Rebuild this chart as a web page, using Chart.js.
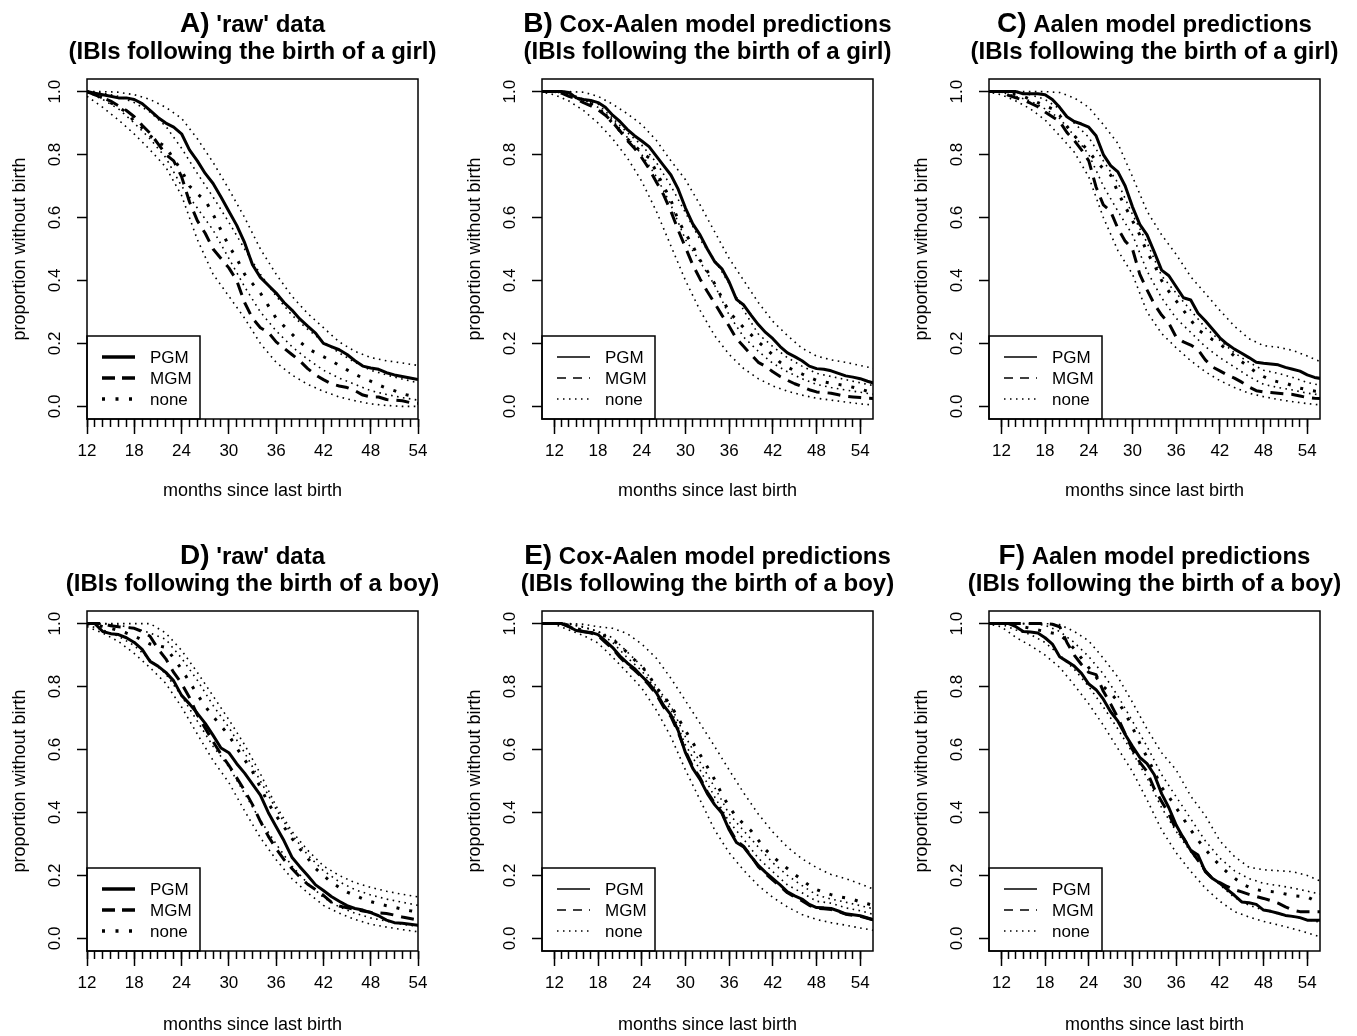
<!DOCTYPE html>
<html>
<head>
<meta charset="utf-8">
<script src="https://cdn.jsdelivr.net/npm/chart.js@4.4.0/dist/chart.umd.min.js"></script>
<style>
  body { margin: 0; background: #fff; width: 1357px; height: 1036px; overflow: hidden; position: relative; }
  canvas { position: absolute; }
</style>
</head>
<body>
<canvas id="pA" width="452" height="502" style="left:0px;top:0px"></canvas>
<canvas id="pB" width="452" height="502" style="left:455px;top:0px"></canvas>
<canvas id="pC" width="452" height="502" style="left:902px;top:0px"></canvas>
<canvas id="pD" width="452" height="502" style="left:0px;top:532px"></canvas>
<canvas id="pE" width="452" height="502" style="left:455px;top:532px"></canvas>
<canvas id="pF" width="452" height="502" style="left:902px;top:532px"></canvas>
<script>
// months on the x axis
const monthsRaw = [12,13,14,15,16,17,18,19,20,21,22,23,24,25,26,27,28,29,30,31,32,33,34,35,36,37,38,39,40,41,42,43,44,45,46,47,48,49,50,51,52,53,54];
const monthsModel = [10,11,12,13,14,15,16,17,18,19,20,21,22,23,24,25,26,27,28,29,30,31,32,33,34,35,36,37,38,39,40,41,42,43,44,45,46,47,48,49,50,51,52,53,54,55,56];
const ciMonthsRaw = [12,14,16,18,20,22,24,26,28,30,32,34,36,38,40,42,44,46,48,50,52,54];
const ciMonthsModel = [10,12,14,16,18,20,22,24,26,28,30,32,34,36,38,40,42,44,46,48,50,52,54,56];
const xTickLabels = [12,18,24,30,36,42,48,54];
const xMinorTicks = monthsRaw;
const yTickLabels = [0, 0.2, 0.4, 0.6, 0.8, 1.0];
const legendLabels = ['PGM', 'MGM', 'none'];

// A) raw data, girls
const aPGM = [1.0,0.995,0.99,0.985,0.98,0.98,0.975,0.962,0.94,0.918,0.9,0.887,0.866,0.815,0.78,0.74,0.708,0.665,0.62,0.575,0.52,0.45,0.41,0.385,0.36,0.33,0.306,0.278,0.255,0.233,0.2,0.19,0.18,0.165,0.145,0.128,0.122,0.118,0.107,0.1,0.095,0.09,0.085];
const aMGM = [1.0,0.99,0.98,0.97,0.955,0.94,0.92,0.893,0.868,0.835,0.8,0.78,0.73,0.65,0.59,0.55,0.5,0.47,0.44,0.4,0.33,0.28,0.25,0.235,0.205,0.185,0.165,0.145,0.12,0.1,0.085,0.072,0.065,0.06,0.05,0.036,0.03,0.03,0.022,0.02,0.018,0.012,0.01];
const aNone = [1.0,0.99,0.98,0.965,0.95,0.935,0.905,0.885,0.86,0.84,0.825,0.785,0.75,0.7,0.675,0.655,0.61,0.56,0.51,0.47,0.42,0.39,0.36,0.32,0.28,0.255,0.23,0.205,0.185,0.17,0.158,0.145,0.13,0.116,0.102,0.09,0.08,0.068,0.058,0.05,0.04,0.034,0.03];
const aCiTop = [1.0,1.0,0.998,0.99,0.975,0.95,0.915,0.85,0.775,0.69,0.6,0.5,0.42,0.35,0.295,0.25,0.205,0.175,0.155,0.145,0.138,0.13];
const aCiUpper = [1.0,0.995,0.985,0.965,0.935,0.89,0.82,0.74,0.665,0.585,0.5,0.42,0.35,0.29,0.245,0.205,0.17,0.14,0.115,0.1,0.087,0.075];
const aCiLower = [1.0,0.975,0.945,0.9,0.85,0.79,0.7,0.63,0.56,0.47,0.38,0.3,0.24,0.19,0.15,0.115,0.09,0.07,0.05,0.038,0.028,0.02];
const aCiBottom = [0.985,0.95,0.91,0.865,0.815,0.76,0.67,0.53,0.42,0.35,0.28,0.2,0.14,0.1,0.07,0.048,0.03,0.018,0.008,0.003,0.0,0.0];

// B) Cox-Aalen, girls
const bPGM = [1.0,1.0,1.0,1.0,0.997,0.98,0.975,0.972,0.965,0.95,0.925,0.905,0.88,0.86,0.843,0.825,0.795,0.765,0.735,0.69,0.63,0.58,0.545,0.5,0.46,0.437,0.395,0.34,0.322,0.29,0.26,0.235,0.215,0.19,0.17,0.158,0.145,0.128,0.12,0.118,0.113,0.105,0.097,0.093,0.088,0.08,0.073];
const bMGM = [1.0,1.0,1.0,0.995,0.985,0.977,0.965,0.955,0.942,0.925,0.903,0.875,0.845,0.82,0.79,0.755,0.713,0.672,0.62,0.56,0.505,0.45,0.405,0.365,0.328,0.29,0.255,0.215,0.19,0.165,0.14,0.127,0.11,0.095,0.083,0.072,0.063,0.053,0.046,0.044,0.042,0.037,0.032,0.03,0.028,0.026,0.025];
const bNone = [1.0,1.0,1.0,0.998,0.99,0.98,0.97,0.962,0.947,0.925,0.9,0.875,0.85,0.83,0.805,0.79,0.745,0.7,0.655,0.59,0.55,0.51,0.465,0.43,0.39,0.345,0.3,0.275,0.25,0.228,0.205,0.185,0.163,0.14,0.125,0.113,0.103,0.092,0.083,0.078,0.074,0.07,0.066,0.061,0.055,0.048,0.042];
const bCiTop = [1.0,1.0,1.0,0.998,0.985,0.96,0.93,0.895,0.845,0.78,0.72,0.64,0.555,0.47,0.4,0.33,0.27,0.225,0.185,0.16,0.148,0.14,0.13,0.12];
const bCiUpper = [1.0,1.0,0.995,0.975,0.96,0.915,0.87,0.83,0.775,0.7,0.615,0.53,0.465,0.39,0.305,0.23,0.19,0.155,0.128,0.105,0.095,0.085,0.075,0.065];
const bCiLower = [1.0,1.0,0.99,0.975,0.95,0.91,0.855,0.8,0.73,0.64,0.53,0.46,0.385,0.29,0.22,0.175,0.137,0.11,0.088,0.07,0.06,0.052,0.045,0.038];
const bCiBottom = [1.0,0.99,0.97,0.94,0.9,0.85,0.79,0.715,0.62,0.51,0.4,0.305,0.225,0.165,0.12,0.088,0.065,0.048,0.036,0.026,0.02,0.014,0.008,0.004];

// C) Aalen, girls
const cPGM = [1.0,1.0,1.0,1.0,1.0,0.993,0.993,0.993,0.99,0.975,0.95,0.92,0.905,0.897,0.887,0.86,0.8,0.765,0.745,0.7,0.634,0.578,0.545,0.49,0.433,0.415,0.38,0.345,0.338,0.296,0.272,0.245,0.218,0.198,0.182,0.169,0.155,0.14,0.137,0.135,0.132,0.124,0.118,0.112,0.1,0.092,0.088];
const cMGM = [1.0,1.0,1.0,0.988,0.98,0.973,0.963,0.952,0.935,0.92,0.905,0.87,0.845,0.815,0.78,0.697,0.64,0.62,0.565,0.525,0.5,0.42,0.37,0.325,0.29,0.264,0.22,0.205,0.195,0.18,0.148,0.125,0.113,0.1,0.09,0.077,0.062,0.05,0.046,0.044,0.042,0.04,0.038,0.033,0.028,0.026,0.025];
const cNone = [1.0,1.0,1.0,0.995,0.99,0.985,0.975,0.965,0.955,0.945,0.925,0.89,0.86,0.835,0.81,0.78,0.755,0.735,0.68,0.635,0.59,0.545,0.49,0.45,0.4,0.365,0.335,0.305,0.275,0.243,0.228,0.212,0.198,0.18,0.16,0.142,0.125,0.108,0.095,0.084,0.078,0.074,0.066,0.058,0.053,0.049,0.046];
const cCiTop = [1.0,1.0,1.0,1.0,1.0,0.997,0.98,0.95,0.895,0.835,0.73,0.62,0.545,0.483,0.412,0.359,0.305,0.255,0.215,0.193,0.188,0.178,0.16,0.14];
const cCiUpper = [1.0,1.0,0.998,0.99,0.975,0.945,0.9,0.855,0.78,0.71,0.61,0.52,0.415,0.36,0.305,0.25,0.21,0.17,0.14,0.115,0.105,0.092,0.076,0.066];
const cCiLower = [1.0,0.998,0.985,0.97,0.945,0.915,0.86,0.8,0.7,0.62,0.545,0.43,0.345,0.28,0.235,0.19,0.155,0.125,0.095,0.07,0.06,0.052,0.042,0.036];
const cCiBottom = [1.0,0.99,0.97,0.945,0.91,0.86,0.808,0.729,0.6,0.495,0.42,0.3,0.232,0.186,0.145,0.11,0.082,0.06,0.042,0.031,0.022,0.015,0.009,0.004];

// D) raw data, boys
const dPGM = [1.0,1.0,0.975,0.968,0.965,0.955,0.94,0.918,0.88,0.865,0.845,0.818,0.772,0.745,0.715,0.683,0.645,0.605,0.59,0.555,0.525,0.49,0.455,0.4,0.355,0.31,0.258,0.228,0.2,0.17,0.152,0.133,0.118,0.104,0.095,0.09,0.082,0.072,0.058,0.05,0.048,0.045,0.042];
const dMGM = [1.0,1.0,1.0,0.993,0.99,0.988,0.985,0.975,0.96,0.92,0.888,0.845,0.81,0.765,0.71,0.668,0.625,0.585,0.55,0.51,0.47,0.425,0.372,0.325,0.285,0.25,0.222,0.195,0.172,0.155,0.137,0.115,0.103,0.097,0.092,0.087,0.083,0.081,0.079,0.074,0.068,0.063,0.058];
const dNone = [1.0,0.998,0.99,0.985,0.978,0.97,0.96,0.948,0.935,0.93,0.924,0.89,0.855,0.815,0.775,0.737,0.705,0.675,0.645,0.605,0.568,0.53,0.48,0.43,0.39,0.354,0.318,0.285,0.255,0.222,0.2,0.178,0.162,0.147,0.137,0.126,0.117,0.11,0.104,0.099,0.093,0.088,0.084];
const dCiTop = [1.0,1.0,1.0,1.0,1.0,0.97,0.915,0.845,0.77,0.695,0.615,0.523,0.42,0.34,0.28,0.23,0.2,0.177,0.162,0.15,0.14,0.132];
const dCiUpper = [1.0,1.0,0.995,0.985,0.97,0.95,0.89,0.82,0.74,0.67,0.59,0.5,0.41,0.33,0.265,0.215,0.18,0.155,0.138,0.125,0.115,0.105];
const dCiLower = [0.995,0.98,0.96,0.93,0.885,0.84,0.77,0.69,0.61,0.545,0.46,0.375,0.3,0.23,0.175,0.13,0.1,0.08,0.065,0.055,0.045,0.038];
const dCiBottom = [0.99,0.97,0.943,0.905,0.86,0.81,0.735,0.649,0.565,0.495,0.405,0.32,0.25,0.19,0.145,0.105,0.08,0.06,0.045,0.036,0.028,0.021];

// E) Cox-Aalen, boys
const ePGM = [1.0,1.0,1.0,1.0,0.99,0.978,0.974,0.972,0.965,0.945,0.924,0.897,0.875,0.857,0.833,0.81,0.78,0.74,0.71,0.66,0.59,0.54,0.505,0.46,0.425,0.398,0.345,0.305,0.29,0.26,0.232,0.21,0.19,0.17,0.148,0.135,0.125,0.108,0.098,0.097,0.095,0.087,0.078,0.075,0.072,0.065,0.058];
const eMGM = [1.0,1.0,1.0,1.0,0.99,0.98,0.975,0.97,0.962,0.94,0.92,0.893,0.87,0.852,0.83,0.805,0.775,0.735,0.705,0.655,0.595,0.545,0.51,0.465,0.43,0.4,0.35,0.31,0.292,0.262,0.228,0.205,0.185,0.165,0.145,0.132,0.12,0.105,0.096,0.094,0.092,0.085,0.077,0.073,0.07,0.064,0.057];
const eNone = [1.0,1.0,1.0,1.0,0.995,0.985,0.978,0.972,0.967,0.96,0.95,0.93,0.908,0.885,0.865,0.835,0.797,0.77,0.74,0.7,0.66,0.622,0.584,0.545,0.505,0.458,0.418,0.385,0.364,0.342,0.312,0.282,0.26,0.24,0.222,0.203,0.186,0.168,0.155,0.146,0.139,0.133,0.129,0.124,0.116,0.11,0.104];
const eCiTop = [1.0,1.0,1.0,0.998,0.99,0.985,0.968,0.935,0.89,0.826,0.755,0.683,0.61,0.535,0.462,0.395,0.338,0.29,0.253,0.225,0.203,0.19,0.173,0.155];
const eCiUpper = [1.0,1.0,1.0,0.99,0.975,0.94,0.892,0.85,0.79,0.727,0.615,0.535,0.45,0.37,0.315,0.255,0.212,0.17,0.145,0.118,0.112,0.097,0.088,0.075];
const eCiLower = [1.0,1.0,0.998,0.988,0.975,0.955,0.91,0.865,0.8,0.738,0.64,0.56,0.48,0.395,0.342,0.29,0.24,0.2,0.168,0.138,0.125,0.115,0.104,0.093];
const eCiBottom = [1.0,0.998,0.98,0.962,0.938,0.893,0.845,0.795,0.725,0.64,0.535,0.44,0.345,0.272,0.216,0.168,0.13,0.1,0.076,0.06,0.05,0.042,0.033,0.025];

// F) Aalen, boys
const fPGM = [1.0,1.0,1.0,1.0,0.99,0.975,0.973,0.97,0.955,0.935,0.895,0.88,0.865,0.842,0.808,0.79,0.76,0.72,0.69,0.648,0.61,0.575,0.555,0.52,0.46,0.415,0.36,0.318,0.28,0.265,0.212,0.19,0.175,0.156,0.137,0.116,0.113,0.108,0.09,0.086,0.08,0.073,0.07,0.066,0.058,0.058,0.058];
const fMGM = [1.0,1.0,1.0,1.0,1.0,1.0,1.0,1.0,1.0,0.998,0.99,0.94,0.9,0.87,0.845,0.838,0.785,0.745,0.7,0.65,0.6,0.56,0.53,0.475,0.435,0.395,0.345,0.32,0.28,0.248,0.215,0.19,0.177,0.165,0.155,0.148,0.14,0.133,0.127,0.12,0.112,0.1,0.09,0.085,0.085,0.085,0.085];
const fNone = [1.0,1.0,1.0,1.0,0.995,0.99,0.985,0.98,0.975,0.97,0.966,0.945,0.92,0.89,0.86,0.83,0.8,0.78,0.752,0.715,0.671,0.62,0.575,0.53,0.48,0.45,0.415,0.38,0.345,0.312,0.283,0.256,0.232,0.21,0.192,0.174,0.163,0.155,0.151,0.149,0.146,0.141,0.136,0.134,0.132,0.12,0.11];
const fCiTop = [1.0,1.0,1.0,1.0,1.0,0.997,0.975,0.945,0.89,0.83,0.75,0.665,0.59,0.535,0.452,0.39,0.31,0.26,0.226,0.218,0.215,0.212,0.2,0.18];
const fCiUpper = [1.0,1.0,1.0,1.0,0.995,0.975,0.94,0.895,0.84,0.77,0.69,0.61,0.52,0.45,0.38,0.31,0.255,0.215,0.19,0.175,0.168,0.16,0.15,0.14];
const fCiLower = [1.0,0.998,0.98,0.965,0.94,0.9,0.855,0.8,0.735,0.665,0.59,0.51,0.415,0.34,0.275,0.215,0.17,0.13,0.105,0.09,0.078,0.068,0.06,0.05];
const fCiBottom = [1.0,0.99,0.956,0.93,0.9,0.861,0.805,0.745,0.677,0.603,0.53,0.44,0.345,0.272,0.213,0.16,0.118,0.085,0.068,0.054,0.043,0.031,0.018,0.003];

const FONT = "'Liberation Sans', Arial, Helvetica, sans-serif";
Chart.defaults.font.family = FONT;
Chart.defaults.color = '#000';

const STYLE = {
  pgm: { width: 3, dash: [] },
  mgm: { width: 3, dash: [13, 8] },
  none: { width: 3, dash: [3, 10] },
  ci: { width: 1.6, dash: [1.6, 4.4] }
};
const LEGEND_THICK = [
  { width: 3.5, dash: [] },
  { width: 3.5, dash: [13, 7] },
  { width: 3.5, dash: [3, 10.5] }
];
const LEGEND_THIN = [
  { width: 1.5, dash: [] },
  { width: 1.5, dash: [9, 7] },
  { width: 1.5, dash: [1.5, 4.5] }
];

// frame, legend box and two-line title, drawn on top of the chart
const panelDecor = {
  id: 'panelDecor',
  afterDraw(chart, args, opts) {
    const ctx = chart.ctx;
    const a = chart.chartArea;
    ctx.save();
    ctx.strokeStyle = '#000';
    ctx.fillStyle = '#000';

    // legend
    const lx = a.left, lw = 113, lh = 83, ly = a.bottom - lh;
    ctx.fillStyle = '#fff';
    ctx.fillRect(lx, ly, lw, lh);
    ctx.fillStyle = '#000';
    ctx.lineWidth = 1.5;
    ctx.strokeRect(lx, ly, lw, lh);
    const styles = opts.thick ? LEGEND_THICK : LEGEND_THIN;
    legendLabels.forEach((label, i) => {
      const y = a.bottom - 62 + i * 21;
      ctx.lineWidth = styles[i].width;
      ctx.setLineDash(styles[i].dash);
      ctx.beginPath();
      ctx.moveTo(lx + 15, y);
      ctx.lineTo(lx + 48, y);
      ctx.stroke();
      ctx.setLineDash([]);
      ctx.font = '17px ' + FONT;
      ctx.textAlign = 'left';
      ctx.textBaseline = 'middle';
      ctx.fillText(label, lx + 63, y + 1);
    });

    // plot frame
    ctx.lineWidth = 1.5;
    ctx.setLineDash([]);
    ctx.strokeRect(a.left, a.top, a.right - a.left, a.bottom - a.top);

    // title
    const cx = (a.left + a.right) / 2;
    ctx.textBaseline = 'alphabetic';
    ctx.textAlign = 'left';
    const keyFont = 'bold 28px ' + FONT;
    const headFont = 'bold 24px ' + FONT;
    ctx.font = keyFont;
    const kw = ctx.measureText(opts.key).width;
    ctx.font = headFont;
    const hw = ctx.measureText(opts.head).width;
    let x0 = cx - (kw + hw) / 2;
    ctx.font = keyFont;
    ctx.fillText(opts.key, x0, 32);
    ctx.font = headFont;
    ctx.fillText(opts.head, x0 + kw, 32);
    ctx.textAlign = 'center';
    ctx.fillText(opts.sub, cx, 59);
    ctx.restore();
  }
};

function lineSet(xs, ys, st) {
  return {
    data: xs.map((x, i) => ({ x: x, y: ys[i] })),
    borderColor: '#000',
    borderWidth: st.width,
    borderDash: st.dash,
    borderCapStyle: 'butt',
    borderJoinStyle: 'round',
    pointRadius: 0,
    tension: 0,
    fill: false,
    clip: 0
  };
}

function buildPanel(p) {
  const datasets = [];
  p.ci.forEach(ys => datasets.push(lineSet(p.ciMonths, ys, STYLE.ci)));
  datasets.push(lineSet(p.months, p.none, STYLE.none));
  datasets.push(lineSet(p.months, p.mgm, STYLE.mgm));
  datasets.push(lineSet(p.months, p.pgm, STYLE.pgm));

  new Chart(document.getElementById(p.id), {
    type: 'line',
    data: { datasets: datasets },
    options: {
      responsive: false,
      animation: false,
      events: [],
      layout: { padding: { top: 79, right: 34, bottom: 0, left: 0 } },
      plugins: {
        legend: { display: false },
        tooltip: { enabled: false },
        panelDecor: { key: p.key, head: p.head, sub: p.sub, thick: p.thick }
      },
      scales: {
        xMinor: {
          type: 'linear', axis: 'x', position: 'bottom', weight: 0,
          min: p.xMin, max: p.xMax,
          afterBuildTicks: s => { s.ticks = xMinorTicks.map(v => ({ value: v })); },
          afterFit: s => { s.height = 0; },
          grid: { drawOnChartArea: false, drawTicks: true, tickLength: 8, tickColor: '#000', tickWidth: 1.5 },
          border: { display: false },
          ticks: { display: false }
        },
        x: {
          type: 'linear', position: 'bottom', weight: 1,
          min: p.xMin, max: p.xMax,
          afterBuildTicks: s => { s.ticks = xTickLabels.map(v => ({ value: v })); },
          afterFit: s => { s.height = 83; },
          grid: { drawOnChartArea: false, drawTicks: true, tickLength: 15, tickColor: '#000', tickWidth: 1.5 },
          border: { display: false },
          ticks: {
            color: '#000', font: { size: 17 }, padding: 7,
            autoSkip: false, maxRotation: 0, minRotation: 0,
            callback: v => String(v)
          },
          title: {
            display: true, text: 'months since last birth', color: '#000',
            font: { size: 18 }, padding: { top: 0, bottom: p.xTitlePad }
          }
        },
        y: {
          type: 'linear', position: 'left',
          min: -0.04, max: 1.04,
          afterBuildTicks: s => { s.ticks = yTickLabels.map(v => ({ value: v })); },
          afterFit: s => { s.width = 87; },
          grid: { drawOnChartArea: false, drawTicks: true, tickLength: 10, tickColor: '#000', tickWidth: 1.5 },
          border: { display: false },
          ticks: {
            color: '#000', font: { size: 17 }, padding: 10,
            autoSkip: false, minRotation: 90, maxRotation: 90, crossAlign: 'center',
            callback: v => v.toFixed(1)
          },
          title: {
            display: true, text: 'proportion without birth', color: '#000',
            font: { size: 18 }, padding: { top: 9, bottom: 0 }
          }
        }
      }
    },
    plugins: [panelDecor]
  });
}

const girl = '(IBIs following the birth of a girl)';
const boy = '(IBIs following the birth of a boy)';
const rawRange = { xMin: 12, xMax: 54 };
const modelRange = { xMin: 10.3, xMax: 55.75 };

buildPanel(Object.assign({ id: 'pA', key: 'A)', head: " 'raw' data", sub: girl, thick: true, xTitlePad: 0,
  months: monthsRaw, pgm: aPGM, mgm: aMGM, none: aNone,
  ciMonths: ciMonthsRaw, ci: [aCiTop, aCiUpper, aCiLower, aCiBottom] }, rawRange));
buildPanel(Object.assign({ id: 'pB', key: 'B)', head: ' Cox-Aalen model predictions', sub: girl, thick: false, xTitlePad: 0,
  months: monthsModel, pgm: bPGM, mgm: bMGM, none: bNone,
  ciMonths: ciMonthsModel, ci: [bCiTop, bCiUpper, bCiLower, bCiBottom] }, modelRange));
buildPanel(Object.assign({ id: 'pC', key: 'C)', head: ' Aalen model predictions', sub: girl, thick: false, xTitlePad: 0,
  months: monthsModel, pgm: cPGM, mgm: cMGM, none: cNone,
  ciMonths: ciMonthsModel, ci: [cCiTop, cCiUpper, cCiLower, cCiBottom] }, modelRange));
buildPanel(Object.assign({ id: 'pD', key: 'D)', head: " 'raw' data", sub: boy, thick: true, xTitlePad: -2,
  months: monthsRaw, pgm: dPGM, mgm: dMGM, none: dNone,
  ciMonths: ciMonthsRaw, ci: [dCiTop, dCiUpper, dCiLower, dCiBottom] }, rawRange));
buildPanel(Object.assign({ id: 'pE', key: 'E)', head: ' Cox-Aalen model predictions', sub: boy, thick: false, xTitlePad: -2,
  months: monthsModel, pgm: ePGM, mgm: eMGM, none: eNone,
  ciMonths: ciMonthsModel, ci: [eCiTop, eCiUpper, eCiLower, eCiBottom] }, modelRange));
buildPanel(Object.assign({ id: 'pF', key: 'F)', head: ' Aalen model predictions', sub: boy, thick: false, xTitlePad: -2,
  months: monthsModel, pgm: fPGM, mgm: fMGM, none: fNone,
  ciMonths: ciMonthsModel, ci: [fCiTop, fCiUpper, fCiLower, fCiBottom] }, modelRange));
</script>
</body>
</html>
